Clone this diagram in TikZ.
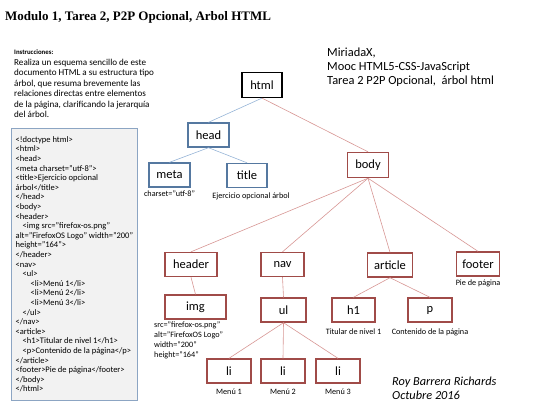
\documentclass[tikz,border=0pt]{standalone}
\usepackage{fontspec}
\setmainfont{Carlito}
\newfontfamily\titlefont{Liberation Serif}
\usetikzlibrary{positioning}

\definecolor{headbox}{RGB}{85,120,160}
\definecolor{headline}{RGB}{150,180,215}
\definecolor{bodybox}{RGB}{160,75,72}
\definecolor{bodyline}{RGB}{215,150,148}
\definecolor{codefill}{RGB}{242,242,242}
\definecolor{codeframe}{RGB}{140,165,195}

\begin{document}
\begin{tikzpicture}[x=1pt, y=-1pt,
    tag/.style = {draw, line width=1.4pt, minimum height=24pt, inner sep=0pt, font=\fontsize{12.5}{14}\selectfont},
    roottag/.style = {tag, draw=black, line width=1.2pt, minimum height=25pt},
    headtag/.style = {tag, draw=headbox},
    bodytag/.style = {tag, draw=bodybox},
    note/.style = {font=\fontsize{8.2}{10}\selectfont, inner sep=0pt},
    headedge/.style = {draw=headline, line width=0.6pt},
    bodyedge/.style = {draw=bodyline, line width=0.6pt}]
    \useasboundingbox (0,0) rectangle (540,405);

    \node[anchor=west, inner sep=0pt, font=\titlefont\bfseries\fontsize{13}{15}\selectfont] (titulo) at (5,17) {Modulo 1, Tarea 2, P2P Opcional, Arbol HTML};

    \node[anchor=north west, inner sep=0pt, align=left, font=\fontsize{9.1}{10.5}\selectfont] (instr) at (14,50)
        {{\fontsize{6.8}{10.5}\selectfont\bfseries Instrucciones:}\\
         Realiza un esquema sencillo de este\\
         documento HTML a su estructura tipo\\
         árbol, que resuma brevemente las\\
         relaciones directas entre elementos\\
         de la página, clarificando la jerarquía\\
         del árbol.};

    \node[anchor=north west, draw=codeframe, fill=codefill, line width=0.8pt, minimum width=126pt, minimum height=272pt,
          inner xsep=3pt, inner ysep=2pt, align=left, font=\fontsize{8.5}{9.6}\selectfont] (code) at (11,128)
        {<!doctype html>\\
         <html>\\
         <head>\\
         <meta charset="utf-8">\\
         <title>Ejercicio opcional\\
         árbol</title>\\
         </head>\\
         <body>\\
         <header>\\
         \hspace*{7pt}<img src="firefox-os.png"\\
         alt="FirefoxOS Logo" width="200"\\
         height="164">\\
         </header>\\
         <nav>\\
         \hspace*{7pt}<ul>\\
         \hspace*{15pt}<li>Menú 1</li>\\
         \hspace*{15pt}<li>Menú 2</li>\\
         \hspace*{15pt}<li>Menú 3</li>\\
         \hspace*{7pt}</ul>\\
         </nav>\\
         <article>\\
         \hspace*{7pt}<h1>Titular de nivel 1</h1>\\
         \hspace*{7pt}<p>Contenido de la página</p>\\
         </article>\\
         <footer>Pie de página</footer>\\
         </body>\\
         </html>};

    \node[anchor=base west, inner sep=0pt, align=left, font=\fontsize{12.4}{14}\selectfont] (curso) at (327,84)
        {MiriadaX,\\
         Mooc HTML5-CSS-JavaScript\\
         Tarea 2 P2P Opcional,\ \ árbol html};

    \node[anchor=base west, inner sep=0pt, align=left, font=\itshape\fontsize{12.3}{13.5}\selectfont] (firma) at (392,399)
        {Roy Barrera Richards\\
         Octubre 2016};

    % arbol
    \node[roottag, minimum width=40pt] (html) at (262,85) {html};

    \node[headtag, minimum width=41pt] (head) at (208.5,135) {head};
    \node[headtag, minimum width=41pt] (meta) at (169.5,175) {meta};
    \node[headtag, minimum width=40pt] (title) at (247,175.5) {title};

    \node[bodytag, minimum width=41pt, minimum height=25pt] (body) at (368,165) {body};
    \node[bodytag, minimum width=52pt] (header) at (191,264.5) {header};
    \node[bodytag, minimum width=43pt] (nav) at (282.5,264.5) {nav};
    \node[bodytag, minimum width=45pt] (article) at (390,265) {article};
    \node[bodytag, minimum width=43pt] (footer) at (478,264) {footer};

    \node[bodytag, minimum width=61pt] (img) at (195.5,307) {img};
    \node[bodytag, minimum width=45pt] (ul) at (283.5,310) {ul};
    \node[bodytag, minimum width=43pt] (h1) at (353.5,310) {h1};
    \node[bodytag, minimum width=44pt] (p) at (430,310) {p};

    \node[bodytag, minimum width=44pt] (li1) at (229,371) {li};
    \node[bodytag, minimum width=44pt] (li2) at (283,371) {li};
    \node[bodytag, minimum width=44pt] (li3) at (338,371) {li};

    % textos de cada elemento
    \node[note, below=3pt of meta] (metatxt) {charset="utf-8"};
    \node[note, below=4pt of title, xshift=4pt] (titletxt) {Ejercicio opcional árbol};
    \node[note, below=3pt of footer] (footertxt) {Pie de página};
    \node[note, anchor=north west, align=left] (imgtxt) at (154,322)
        {src="firefox-os.png"\\ alt="FirefoxOS Logo"\\ width="200"\\ height="164"};
    \node[note, below=6pt of h1] (h1txt) {Titular de nivel 1};
    \node[note, below=6pt of p] (ptxt) {Contenido de la página};
    \node[note, below=5pt of li1] (li1txt) {Menú 1};
    \node[note, below=5pt of li2] (li2txt) {Menú 2};
    \node[note, below=5pt of li3] (li3txt) {Menú 3};

    \draw[headedge] (html.south) -- (head.north);
    \draw[headedge] (head.south) -- (meta.north);
    \draw[headedge] (head.south) -- (title.north);

    \draw[bodyedge] (html.south) -- (body.north);
    \foreach \hijo in {header, nav, article, footer}
        \draw[bodyedge] (body.south) -- (\hijo.north);
    \draw[bodyedge] (header.south) -- (img.north);
    \draw[bodyedge] (nav.south) -- (ul.north);
    \foreach \hijo in {li1, li2, li3}
        \draw[bodyedge] (ul.south) -- (\hijo.north);
    \draw[bodyedge] (article.south) -- (h1.north);
    \draw[bodyedge] (article.south) -- (p.north);

\end{tikzpicture}
\end{document}
